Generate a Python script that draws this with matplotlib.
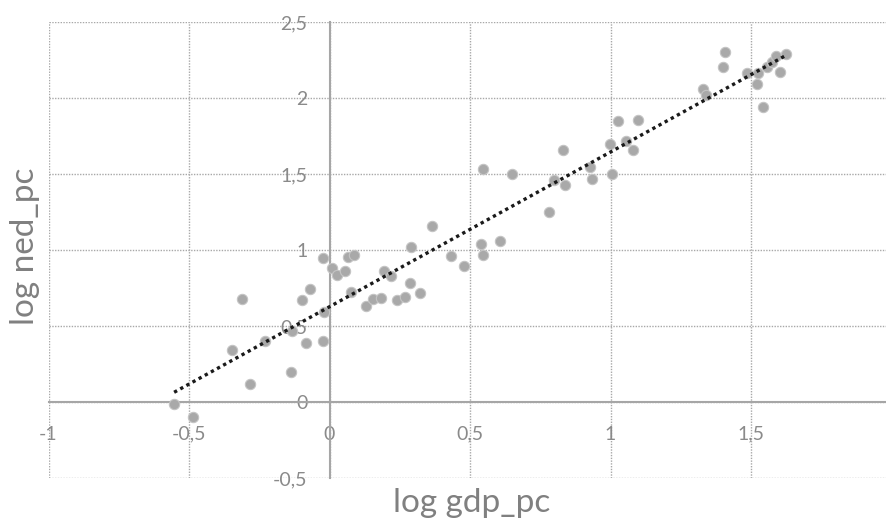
import numpy as np
import matplotlib
matplotlib.use("Agg")
import matplotlib.pyplot as plt
from matplotlib.ticker import FuncFormatter, MultipleLocator

plt.rcParams['font.family'] = ['Lato', 'DejaVu Sans']

log_gdp_pc = [-0.553, -0.485, -0.347, -0.31, -0.284, -0.23, -0.137, -0.135, -0.097, -0.085,
              -0.07, -0.023, -0.02, -0.022, 0.01, 0.028, 0.055, 0.067, 0.088, 0.077,
              0.13, 0.156, 0.182, 0.194, 0.22, 0.239, 0.269, 0.286, 0.322, 0.29,
              0.364, 0.431, 0.479, 0.538, 0.547, 0.607, 0.547, 0.648, 0.782, 0.80,
              0.838, 0.832, 0.925, 0.933, 1.006, 0.998, 1.054, 1.079, 1.027, 1.098,
              1.33, 1.34, 1.399, 1.407, 1.485, 1.526, 1.522, 1.542, 1.556, 1.574,
              1.59, 1.625, 1.603]
log_ned_pc = [-0.01, -0.10, 0.34, 0.68, 0.12, 0.40, 0.20, 0.47, 0.67, 0.39,
              0.745, 0.40, 0.59, 0.945, 0.88, 0.835, 0.86, 0.956, 0.97, 0.725,
              0.63, 0.68, 0.686, 0.86, 0.83, 0.67, 0.69, 0.78, 0.72, 1.018,
              1.16, 0.96, 0.895, 1.04, 0.967, 1.06, 1.53, 1.50, 1.25, 1.46,
              1.43, 1.66, 1.544, 1.467, 1.50, 1.695, 1.72, 1.66, 1.85, 1.855,
              2.06, 2.02, 2.206, 2.305, 2.167, 2.167, 2.09, 1.94, 2.206, 2.24,
              2.276, 2.29, 2.17]

x_label = "log gdp_pc"
y_label = "log ned_pc"

x = np.array(log_gdp_pc)
y = np.array(log_ned_pc)

fig = plt.figure(figsize=(8.86, 5.22), dpi=100)
ax = fig.add_axes([48.5 / 886, 44 / 522, (886 - 48.5) / 886, 456 / 522])
ax.set_xlim(-1, 1.98)
ax.set_ylim(-0.5, 2.5)

ax.xaxis.set_major_locator(MultipleLocator(0.5))
ax.yaxis.set_major_locator(MultipleLocator(0.5))
fmt = FuncFormatter(lambda v, p: ('%g' % round(v, 2)).replace('.', ','))
ax.xaxis.set_major_formatter(fmt)
ax.yaxis.set_major_formatter(fmt)

ax.grid(True, color='#a8a8a8', linestyle=(0, (1, 1)), linewidth=1.0, zorder=0)
ax.set_axisbelow(True)
for gl in ax.get_xgridlines() + ax.get_ygridlines():
    gl.set_clip_on(False)

for s in ['top', 'right']:
    ax.spines[s].set_visible(False)
ax.spines['left'].set_position(('data', 0))
ax.spines['bottom'].set_position(('data', 0))
for s in ['left', 'bottom']:
    ax.spines[s].set_color('#a6a6a6')
    ax.spines[s].set_linewidth(1.5)

ax.tick_params(axis='both', length=0, labelsize=14, labelcolor='#8a8a8a')
ax.tick_params(axis='y', pad=16)
ax.tick_params(axis='x', pad=17)

ax.scatter(x, y, s=55, facecolor='#a9a9a9', edgecolor='#c4c4c4', linewidth=0.8, zorder=3)

slope, intercept = np.polyfit(x, y, 1)
xl = np.array([x.min(), x.max()])
ax.plot(xl, slope * xl + intercept, color='#1a1a1a', linestyle=(0, (1, 1.1)),
        linewidth=2.4, zorder=4)

fig.text(472 / 886, 1 - 503 / 522, x_label, ha='center', va='center',
         fontsize=24, color='#808080')
fig.text(25 / 886, 1 - 246 / 522, y_label, ha='center', va='center',
         rotation=90, fontsize=24, color='#808080')

fig.savefig('out.png', dpi=100)
